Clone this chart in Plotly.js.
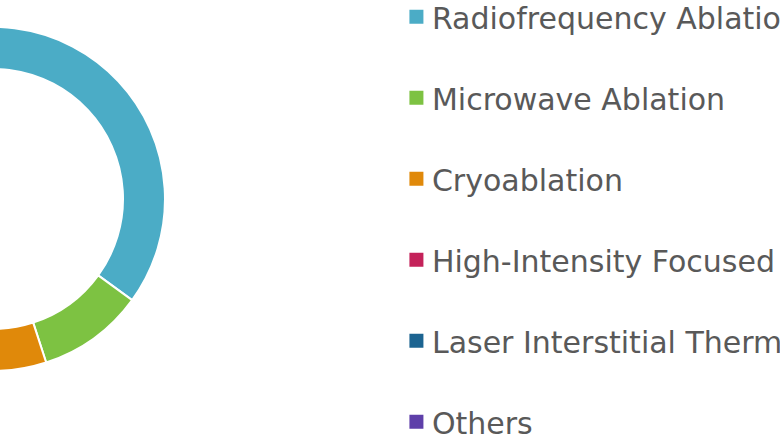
<!DOCTYPE html>
<html>
<head>
<meta charset="utf-8">
<script src="https://cdn.plot.ly/plotly-3.0.1.min.js"></script>
<style>
  html, body { margin: 0; padding: 0; width: 780px; height: 440px; overflow: hidden; background: #fff; }
  #chart { position: absolute; left: -200px; top: -100px; width: 1400px; height: 640px; }
</style>
</head>
<body>
<div id="chart"></div>
<script>
// ablation technology share
var categories = [
    'Radiofrequency Ablation',
    'Microwave Ablation',
    'Cryoablation',
    'High-Intensity Focused Ultrasound',
    'Laser Interstitial Thermal Therapy',
    'Others'
];
var shares = [44, 10, 14, 13, 11, 8];
var colors = ['#4BACC6', '#7DC242', '#E0890A', '#C4225A', '#1C6491', '#5E3FA9'];

// blank second line gives the tall legend rows of the original
var legendLabels = categories.map(function (c) { return c + '<br> '; });

var trace = {
    type: 'pie',
    labels: legendLabels,
    values: shares,
    hole: 0.756,
    sort: false,
    direction: 'clockwise',
    rotation: -32.4,
    textinfo: 'none',
    hoverinfo: 'none',
    marker: { colors: colors, line: { color: '#ffffff', width: 2 } },
    domain: { x: [0.015, 0.2607], y: [0.2641, 0.8016] }
};

var layout = {
    width: 1400,
    height: 640,
    margin: { l: 0, r: 0, t: 0, b: 0, autoexpand: false },
    paper_bgcolor: '#ffffff',
    showlegend: true,
    legend: {
        x: 0.4228,
        y: 0.8581,
        xanchor: 'left',
        yanchor: 'top',
        valign: 'top',
        bgcolor: 'rgba(0,0,0,0)',
        font: { family: 'DejaVu Sans', size: 30, color: '#595959' }
    }
};

Plotly.newPlot('chart', [trace], layout, { displayModeBar: false, staticPlot: true }).then(function () {
    // the original has bigger legend squares, sitting closer to the text
    document.querySelectorAll('.legendpie').forEach(function (p) {
        p.setAttribute('d', 'M12.5,8H-3.5V-8H12.5Z');
    });
});
</script>
</body>
</html>
